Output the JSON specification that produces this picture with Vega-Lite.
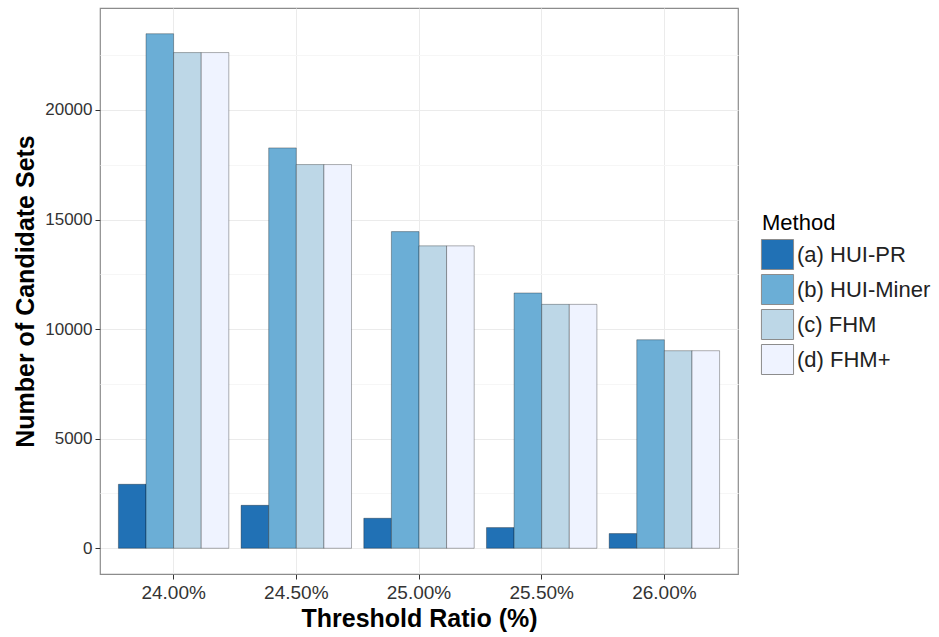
{
  "$schema": "https://vega.github.io/schema/vega-lite/v6.json",
  "width": 638,
  "height": 566,
  "autosize": {"type": "none"},
  "padding": {"left": 100, "top": 8, "right": 201, "bottom": 63},
  "background": "white",
  "config": {
    "font": "Liberation Sans",
    "view": {"stroke": "#8c8c8c", "strokeWidth": 1.2}
  },
  "data": {
    "values": [
      {"threshold": "24.00%", "method": "(a) HUI-PR", "count": 2920},
      {"threshold": "24.00%", "method": "(b) HUI-Miner", "count": 23480},
      {"threshold": "24.00%", "method": "(c) FHM", "count": 22620},
      {"threshold": "24.00%", "method": "(d) FHM+", "count": 22620},
      {"threshold": "24.50%", "method": "(a) HUI-PR", "count": 1960},
      {"threshold": "24.50%", "method": "(b) HUI-Miner", "count": 18270},
      {"threshold": "24.50%", "method": "(c) FHM", "count": 17510},
      {"threshold": "24.50%", "method": "(d) FHM+", "count": 17510},
      {"threshold": "25.00%", "method": "(a) HUI-PR", "count": 1370},
      {"threshold": "25.00%", "method": "(b) HUI-Miner", "count": 14450},
      {"threshold": "25.00%", "method": "(c) FHM", "count": 13800},
      {"threshold": "25.00%", "method": "(d) FHM+", "count": 13800},
      {"threshold": "25.50%", "method": "(a) HUI-PR", "count": 945},
      {"threshold": "25.50%", "method": "(b) HUI-Miner", "count": 11650},
      {"threshold": "25.50%", "method": "(c) FHM", "count": 11130},
      {"threshold": "25.50%", "method": "(d) FHM+", "count": 11130},
      {"threshold": "26.00%", "method": "(a) HUI-PR", "count": 670},
      {"threshold": "26.00%", "method": "(b) HUI-Miner", "count": 9515},
      {"threshold": "26.00%", "method": "(c) FHM", "count": 9015},
      {"threshold": "26.00%", "method": "(d) FHM+", "count": 9015}
    ]
  },
  "mark": {"type": "bar", "stroke": "#000000", "strokeOpacity": 0.35, "strokeWidth": 0.9},
  "encoding": {
    "x": {
      "field": "threshold",
      "type": "nominal",
      "sort": null,
      "title": "Threshold Ratio (%)",
      "scale": {"paddingInner": 0.1, "paddingOuter": 0.15},
      "axis": {
        "labelAngle": 0,
        "labelFontSize": 19,
        "labelColor": "#333333",
        "labelPadding": 4,
        "tickColor": "#333333",
        "tickSize": 5,
        "domain": false,
        "grid": true,
        "gridColor": "#ebebeb",
        "gridWidth": 1,
        "bandPosition": 0.5,
        "titleFontSize": 25,
        "titleFontWeight": "bold",
        "titleColor": "#000000",
        "titlePadding": 4
      }
    },
    "xOffset": {
      "field": "method",
      "type": "nominal",
      "scale": {"paddingInner": 0, "paddingOuter": 0}
    },
    "y": {
      "field": "count",
      "type": "quantitative",
      "title": "Number of Candidate Sets",
      "scale": {"domain": [-1174, 24654], "nice": false, "zero": false},
      "axis": {
        "values": [0, 2500, 5000, 7500, 10000, 12500, 15000, 17500, 20000, 22500],
        "format": "d",
        "labelExpr": "datum.value % 5000 === 0 ? datum.label : ''",
        "labelFontSize": 17,
        "labelColor": "#333333",
        "labelPadding": 3,
        "tickSize": 5,
        "tickColor": {"condition": {"test": "datum.value % 5000 === 0", "value": "#333333"}, "value": "transparent"},
        "gridColor": {"condition": {"test": "datum.value % 5000 === 0", "value": "#ebebeb"}, "value": "#f6f6f6"},
        "gridWidth": 1,
        "domain": false,
        "titleFontSize": 25,
        "titleFontWeight": "bold",
        "titleColor": "#000000",
        "titlePadding": 6
      }
    },
    "color": {
      "field": "method",
      "type": "nominal",
      "title": "Method",
      "scale": {
        "domain": ["(a) HUI-PR", "(b) HUI-Miner", "(c) FHM", "(d) FHM+"],
        "range": ["#2171b5", "#6baed6", "#bdd7e7", "#eff3ff"]
      },
      "legend": {
        "orient": "none",
        "legendX": 662,
        "legendY": 205,
        "titleFontSize": 22,
        "titleFontWeight": "normal",
        "titleColor": "#000000",
        "titlePadding": 4,
        "labelFontSize": 22,
        "labelColor": "#222222",
        "labelOffset": 4,
        "symbolType": "M-1.07,-1H1.07V1H-1.07Z",
        "symbolSize": 900,
        "symbolStrokeColor": "#8c8c8c",
        "symbolStrokeWidth": 1,
        "symbolOpacity": 1,
        "rowPadding": 0
      }
    }
  }
}
